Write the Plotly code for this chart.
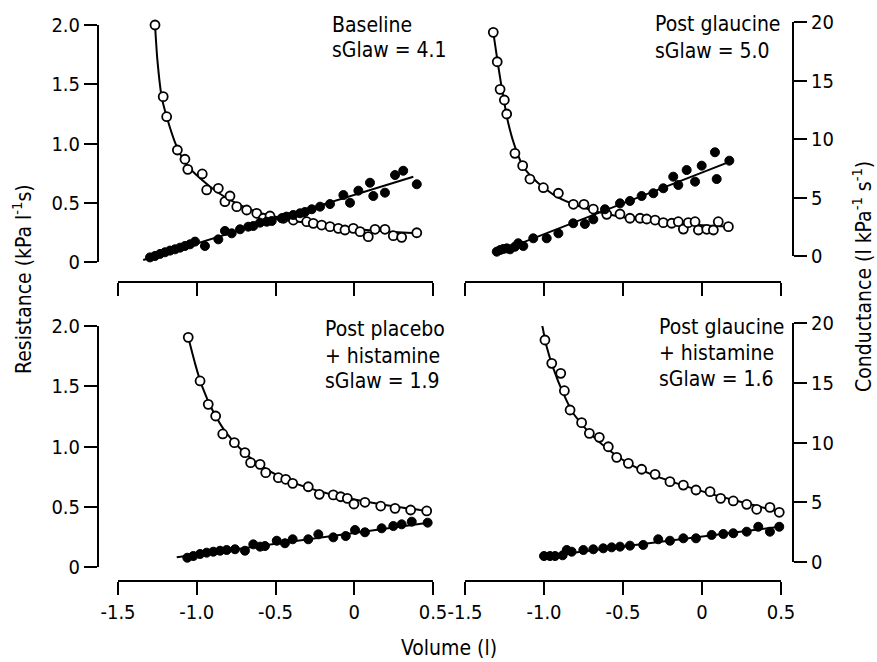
import plotly.graph_objects as go

W, H = 877, 662
def px(x): return x / W
def py(y): return 1 - y / H

# ---------------- data ----------------
# Baseline
base_R_vol = [-1.265, -1.213, -1.191, -1.123, -1.075, -1.057, -0.965, -0.937, -0.863, -0.821, -0.789, -0.746,
              -0.683, -0.619, -0.577, -0.535, -0.450, -0.387, -0.344, -0.302, -0.260, -0.207, -0.154, -0.101,
              -0.059, -0.006, 0.037, 0.089, 0.132, 0.195, 0.248, 0.301, 0.397]
base_R = [2.00, 1.395, 1.226, 0.945, 0.867, 0.782, 0.743, 0.608, 0.622, 0.509, 0.557, 0.467,
          0.439, 0.411, 0.369, 0.388, 0.369, 0.354, 0.377, 0.340, 0.326, 0.312, 0.298, 0.284,
          0.270, 0.284, 0.256, 0.214, 0.276, 0.276, 0.222, 0.208, 0.247]
base_G_vol = [-1.297, -1.265, -1.233, -1.202, -1.170, -1.138, -1.106, -1.075, -1.043, -1.011, -0.948, -0.863,
              -0.821, -0.778, -0.725, -0.673, -0.641, -0.598, -0.556, -0.524, -0.461, -0.429, -0.387, -0.344,
              -0.313, -0.270, -0.217, -0.154, -0.069, -0.027, 0.026, 0.100, 0.121, 0.195, 0.259, 0.311, 0.397]
base_G = [0.39, 0.51, 0.68, 0.82, 0.96, 1.07, 1.21, 1.35, 1.49, 1.72, 1.35, 1.91,
          2.62, 2.42, 2.76, 2.98, 3.04, 3.32, 3.40, 3.46, 3.69, 3.83, 3.97, 4.11,
          4.22, 4.45, 4.67, 4.89, 5.65, 5.00, 6.02, 6.69, 5.57, 5.85, 7.34, 7.70, 6.56]
base_fitR_vol = [-1.265, -1.250, -1.223, -1.191, -1.127, -1.064, -0.979, -0.873, -0.768, -0.662, -0.556,
                 -0.450, -0.344, -0.133, 0.079, 0.397]
base_fitR = [2.00, 1.705, 1.395, 1.226, 0.973, 0.819, 0.706, 0.593, 0.509, 0.444, 0.397,
             0.369, 0.340, 0.298, 0.270, 0.242]
base_fitG_vol = [-1.34, 0.375]
base_fitG = [0.17, 7.20]

# Post glaucine
glau_R_vol = [-1.321, -1.296, -1.278, -1.251, -1.236, -1.184, -1.135, -1.089, -1.004, -0.909, -0.814, -0.747,
              -0.688, -0.603, -0.519, -0.456, -0.392, -0.350, -0.297, -0.245, -0.192, -0.150, -0.118, -0.087,
              -0.044, -0.023, 0.030, 0.072, 0.103, 0.167]
glau_R = [1.938, 1.690, 1.457, 1.367, 1.249, 0.917, 0.813, 0.700, 0.627, 0.580, 0.487, 0.487,
          0.447, 0.402, 0.405, 0.369, 0.369, 0.363, 0.354, 0.332, 0.327, 0.340, 0.278, 0.332,
          0.340, 0.270, 0.276, 0.270, 0.340, 0.298]
glau_G_vol = [-1.299, -1.278, -1.258, -1.236, -1.215, -1.184, -1.163, -1.131, -1.068, -0.983, -0.909, -0.815,
              -0.741, -0.688, -0.614, -0.519, -0.456, -0.382, -0.308, -0.245, -0.182, -0.150, -0.097, -0.044,
              -0.002, 0.082, 0.093, 0.173]
glau_G = [0.87, 1.01, 1.10, 1.15, 1.07, 1.29, 1.58, 1.35, 2.00, 2.00, 2.42, 3.27,
          3.21, 3.60, 4.45, 4.95, 5.15, 5.57, 5.80, 6.22, 7.20, 6.50, 7.76, 6.78,
          8.13, 9.26, 7.00, 8.55]
glau_fitR_vol = [-1.321, -1.289, -1.258, -1.226, -1.184, -1.131, -1.046, -0.920, -0.772, -0.603, -0.392,
                 -0.182, 0.030, 0.167]
glau_fitR = [1.938, 1.648, 1.395, 1.170, 0.973, 0.804, 0.678, 0.551, 0.467, 0.405, 0.354,
             0.327, 0.307, 0.298]
glau_fitG_vol = [-1.310, 0.177]
glau_fitG = [0.73, 8.47]

# Post placebo + histamine
plac_R_vol = [-1.054, -0.979, -0.927, -0.880, -0.835, -0.761, -0.694, -0.658, -0.598, -0.562, -0.482, -0.435,
              -0.391, -0.292, -0.222, -0.133, -0.086, -0.044, -0.002, 0.068, 0.168, 0.259, 0.358, 0.460]
plac_R = [1.906, 1.544, 1.350, 1.253, 1.104, 1.032, 0.949, 0.866, 0.852, 0.783, 0.741, 0.728,
          0.694, 0.666, 0.603, 0.598, 0.583, 0.570, 0.523, 0.537, 0.506, 0.487, 0.473, 0.465]
plac_G_vol = [-1.060, -1.022, -0.979, -0.937, -0.895, -0.852, -0.810, -0.757, -0.694, -0.641, -0.598, -0.567,
              -0.492, -0.440, -0.391, -0.292, -0.228, -0.133, -0.054, 0.005, 0.068, 0.174, 0.248, 0.301,
              0.365, 0.466]
plac_G = [0.77, 0.91, 1.08, 1.19, 1.27, 1.35, 1.41, 1.47, 1.35, 1.88, 1.69, 1.74,
          2.18, 1.97, 2.30, 2.30, 2.71, 2.46, 2.57, 3.07, 2.88, 3.21, 3.40, 3.54,
          3.76, 3.68]
plac_fitR_vol = [-1.054, -1.011, -0.969, -0.895, -0.810, -0.704, -0.598, -0.450, -0.302, -0.133, 0.079,
                 0.290, 0.460]
plac_fitR = [1.906, 1.690, 1.510, 1.289, 1.109, 0.957, 0.846, 0.736, 0.661, 0.598, 0.542,
             0.495, 0.465]
plac_fitG_vol = [-1.127, 0.470]
plac_fitG = [0.80, 3.68]

# Post glaucine + histamine
gh_R_vol = [-1.015, -0.994, -0.951, -0.894, -0.871, -0.835, -0.762, -0.713, -0.650, -0.593, -0.540, -0.466,
            -0.382, -0.297, -0.203, -0.118, -0.038, 0.051, 0.118, 0.198, 0.283, 0.346, 0.430, 0.489]
gh_R = [2.03, 1.884, 1.690, 1.607, 1.463, 1.303, 1.198, 1.109, 1.076, 0.998, 0.910, 0.860,
        0.811, 0.769, 0.708, 0.680, 0.639, 0.625, 0.570, 0.548, 0.520, 0.479, 0.495, 0.454]
gh_G_vol = [-1.000, -0.962, -0.930, -0.882, -0.856, -0.825, -0.751, -0.688, -0.625, -0.572, -0.519, -0.456,
            -0.372, -0.277, -0.203, -0.118, -0.038, 0.061, 0.135, 0.198, 0.283, 0.356, 0.430, 0.489]
gh_G = [0.91, 0.91, 0.91, 0.97, 1.41, 1.27, 1.41, 1.47, 1.55, 1.63, 1.69, 1.77,
        1.83, 2.30, 2.18, 2.38, 2.38, 2.66, 2.74, 2.80, 2.93, 3.34, 2.93, 3.34]
gh_fitR_vol = [-1.015, -0.983, -0.941, -0.878, -0.815, -0.709, -0.603, -0.477, -0.308, -0.139, 0.030,
               0.198, 0.367, 0.494]
gh_fitR = [2.03, 1.828, 1.649, 1.441, 1.276, 1.109, 0.985, 0.869, 0.763, 0.686, 0.617,
           0.556, 0.500, 0.454]
gh_fitG_vol = [-1.015, 0.494]
gh_fitG = [0.86, 3.35]

x_ticks = [-1.5, -1.0, -0.5, 0, 0.5]
x_ticktext = ["-1.5", "-1.0", "-0.5", "0", "0.5"]
r_ticks = [0, 0.5, 1.0, 1.5, 2.0]
r_ticktext = ["0", "0.5", "1.0", "1.5", "2.0"]
g_ticks = [0, 5, 10, 15, 20]
g_ticktext = ["0", "5", "10", "15", "20"]

panel_labels = [
    ["Baseline", "sGlaw = 4.1"],
    ["Post glaucine", "sGlaw = 5.0"],
    ["Post placebo", "+ histamine", "sGlaw = 1.9"],
    ["Post glaucine", "+ histamine", "sGlaw = 1.6"],
]

# ---------------- figure ----------------
FONT = "Liberation Sans Narrow, DejaVu Sans Condensed, Roboto Condensed, Liberation Sans, sans-serif"
fig = go.Figure()

panels = [
    (base_R_vol, base_R, base_G_vol, base_G, base_fitR_vol, base_fitR, base_fitG_vol, base_fitG),
    (glau_R_vol, glau_R, glau_G_vol, glau_G, glau_fitR_vol, glau_fitR, glau_fitG_vol, glau_fitG),
    (plac_R_vol, plac_R, plac_G_vol, plac_G, plac_fitR_vol, plac_fitR, plac_fitG_vol, plac_fitG),
    (gh_R_vol, gh_R, gh_G_vol, gh_G, gh_fitR_vol, gh_fitR, gh_fitG_vol, gh_fitG),
]

for i, (rv, r, gv, g, frv, fr, fgv, fg) in enumerate(panels):
    xa = "x" if i == 0 else f"x{i+1}"
    ya = "y" if i == 0 else f"y{i+1}"
    ga = f"y{i+5}"
    fig.add_trace(go.Scatter(x=frv, y=fr, mode="lines", cliponaxis=False,
                             line=dict(color="black", width=2, shape="spline", smoothing=0.6),
                             xaxis=xa, yaxis=ya, showlegend=False, hoverinfo="skip"))
    fig.add_trace(go.Scatter(x=fgv, y=fg, mode="lines", cliponaxis=False,
                             line=dict(color="black", width=2),
                             xaxis=xa, yaxis=ga, showlegend=False, hoverinfo="skip"))
    fig.add_trace(go.Scatter(x=gv, y=g, mode="markers", cliponaxis=False,
                             marker=dict(symbol="circle", size=9, color="black", line=dict(color="black", width=1)),
                             xaxis=xa, yaxis=ga, showlegend=False))
    fig.add_trace(go.Scatter(x=rv, y=r, mode="markers", cliponaxis=False,
                             marker=dict(symbol="circle", size=9, color="white", line=dict(color="black", width=1.8)),
                             xaxis=xa, yaxis=ya, showlegend=False))

# dummy traces so the visible conductance axes are drawn
fig.add_trace(go.Scatter(x=[None], y=[None], xaxis="x2", yaxis="y9", showlegend=False, hoverinfo="skip"))
fig.add_trace(go.Scatter(x=[None], y=[None], xaxis="x4", yaxis="y10", showlegend=False, hoverinfo="skip"))

tickfont = dict(family=FONT, size=20, color="black")
xdom_L = [px(118), px(433)]
xdom_R = [px(465), px(781)]
ydom_T = [py(262), py(25)]
ydom_B = [py(567), py(326)]

def xaxis(dom, pos, labels):
    return dict(domain=dom, range=[-1.5, 0.5], anchor="free", position=pos,
                tickmode="array", tickvals=x_ticks, ticktext=x_ticktext, showticklabels=labels,
                ticks="outside", ticklen=13, tickwidth=2, tickcolor="black",
                showline=True, linewidth=2, linecolor="black", showgrid=False, zeroline=False,
                tickfont=tickfont, fixedrange=True, automargin=False)

def yaxis_R(dom, visible):
    d = dict(domain=dom, range=[0, 2.0], showgrid=False, zeroline=False, fixedrange=True)
    if visible:
        d.update(anchor="free", position=px(98), side="left", tickmode="array", tickvals=r_ticks,
                 ticktext=r_ticktext, ticks="outside", ticklen=13, tickwidth=2, tickcolor="black",
                 showline=True, linewidth=2, linecolor="black", tickfont=tickfont, automargin=False)
    else:
        d.update(visible=False)
    return d

def yaxis_G(dom):
    return dict(domain=dom, range=[0, 20], anchor="free", position=px(793), side="right",
                tickmode="array", tickvals=g_ticks, ticktext=g_ticktext, ticks="outside", ticklen=13,
                tickwidth=2, tickcolor="black", showline=True, linewidth=2, linecolor="black",
                showgrid=False, zeroline=False, tickfont=tickfont, fixedrange=True, automargin=False)

layout = dict(
    width=W, height=H, margin=dict(l=0, r=0, t=0, b=0, pad=0, autoexpand=False),
    paper_bgcolor="white", plot_bgcolor="rgba(0,0,0,0)",
    xaxis=xaxis(xdom_L, py(282), False),
    xaxis2=xaxis(xdom_R, py(282), False),
    xaxis3=xaxis(xdom_L, py(581), True),
    xaxis4=xaxis(xdom_R, py(581), True),
    yaxis=yaxis_R(ydom_T, True),
    yaxis2=yaxis_R(ydom_T, False),
    yaxis3=yaxis_R(ydom_B, True),
    yaxis4=yaxis_R(ydom_B, False),
    yaxis5=dict(overlaying="y", range=[0, 20], visible=False, fixedrange=True),
    yaxis6=dict(overlaying="y2", range=[0, 20], visible=False, fixedrange=True),
    yaxis7=dict(overlaying="y3", range=[0, 20], visible=False, fixedrange=True),
    yaxis8=dict(overlaying="y4", range=[0, 20], visible=False, fixedrange=True),
    yaxis9=yaxis_G([py(256), py(22)]),
    yaxis10=yaxis_G([py(562), py(323)]),
)
fig.update_layout(**layout)

annfont = dict(family=FONT, size=21, color="black")
label_pos = [
    (330, [25, 50]),
    (653, [24, 51]),
    (323, [329, 356, 381]),
    (657, [327, 353, 379]),
]
for (lx, ys), lines in zip(label_pos, panel_labels):
    for yy, txt in zip(ys, lines):
        fig.add_annotation(x=px(lx), y=py(yy), xref="paper", yref="paper", text=txt, showarrow=False,
                           xanchor="left", yanchor="middle", font=annfont)

titlefont = dict(family=FONT, size=21, color="black")
fig.add_annotation(x=px(22), y=py(279), xref="paper", yref="paper", text="Resistance (kPa l<sup>-1</sup>s)",
                   textangle=-90, showarrow=False, xanchor="center", yanchor="middle", font=titlefont)
fig.add_annotation(x=px(862), y=py(277), xref="paper", yref="paper",
                   text="Conductance (l kPa<sup>-1</sup> s<sup>-1</sup>)",
                   textangle=-90, showarrow=False, xanchor="center", yanchor="middle", font=titlefont)
fig.add_annotation(x=px(449), y=py(648), xref="paper", yref="paper", text="Volume (l)",
                   showarrow=False, xanchor="center", yanchor="middle", font=titlefont)

fig.write_html("out.html", config={"displayModeBar": False},
               post_script="document.body.style.margin='0px'; document.body.style.overflow='hidden';")
